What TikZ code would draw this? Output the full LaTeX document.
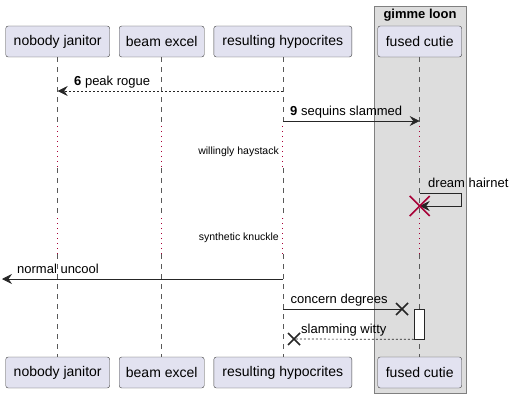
\documentclass[tikz,border=0pt]{standalone}
\usepackage{fontspec}
\setmainfont{Liberation Sans}
\usetikzlibrary{arrows.meta, positioning}

\definecolor{actorfill}{HTML}{E2E2F0}
\definecolor{groupfill}{HTML}{DDDDDD}
\definecolor{delaycol}{HTML}{A80036}

\begin{document}
\begin{tikzpicture}[x=1pt, y=-1pt,
  actor/.style={draw=black!75, fill=actorfill, rounded corners=2.5pt, minimum height=31pt,
                inner sep=0pt, font=\fontsize{14}{16}\selectfont},
  life/.style={black!65, line width=0.5pt, dash pattern=on 5pt off 5pt},
  delayline/.style={delaycol, line width=1pt, dash pattern=on 1pt off 4pt},
  msg/.style={-{Stealth[length=10pt, width=10pt, inset=3.5pt]}, black!85, line width=0.7pt},
  reply/.style={msg, dash pattern=on 2pt off 2pt},
  lbl/.style={anchor=base west, inner sep=0pt, font=\fontsize{13}{15}\selectfont},
  delaytxt/.style={anchor=base east, inner sep=0pt, font=\fontsize{10.5}{12}\selectfont},
  cross/.style={line width=1.6pt}
]
\useasboundingbox (0,0) rectangle (511,398);

% box around the last participant
\draw[fill=groupfill, draw=black!50] (374,6) rectangle (466,393);
\node[font=\bfseries\fontsize{13}{15}\selectfont, inner sep=0pt] (grp) at (420,15) {gimme loon};

% participants, top and bottom row
\node[actor, minimum width=104pt] (jan)  at (57.7,41.5)  {nobody janitor};
\node[actor, minimum width=85pt]  (beam) at (161.7,41.5) {beam excel};
\node[actor, minimum width=138pt] (hyp)  at (282.8,41.5) {resulting hypocrites};
\node[actor, minimum width=84pt]  (fus)  at (419.7,41.5) {fused cutie};
\node[actor, minimum width=104pt] (jan2)  at (57.7,372.5)  {nobody janitor};
\node[actor, minimum width=85pt]  (beam2) at (161.7,372.5) {beam excel};
\node[actor, minimum width=138pt] (hyp2)  at (282.8,372.5) {resulting hypocrites};
\node[actor, minimum width=84pt]  (fus2)  at (419.7,372.5) {fused cutie};

% delay bands
\coordinate (d1) at (0,126);
\coordinate (d2) at (0,168);
\coordinate (d3) at (0,218);
\coordinate (d4) at (0,254);

\foreach \p/\q in {jan/jan2, beam/beam2, hyp/hyp2, fus/fus2} {
  \draw[life] (\p.south) -- (\p |- d1);
  \draw[delayline] (\p |- d1) -- (\p |- d2);
  \draw[life] (\p |- d2) -- (\p |- d3);
  \draw[delayline] (\p |- d3) -- (\p |- d4);
  \draw[life] (\p |- d4) -- (\q.north);
}

% message rows
\coordinate (m1) at (0,91);
\coordinate (m2) at (0,121);
\coordinate (s1) at (461,193);
\coordinate (s2) at (461,206);
\coordinate (m5) at (0,279);
\coordinate (found) at (2,279);
\coordinate (lost) at (402,309);
\coordinate (gone) at (294,339);

\draw[reply] (hyp |- m1) -- (jan |- m1);
\node[lbl] (t1) at (74,85.5) {\textbf{6} peak rogue};

\draw[msg] (hyp |- m2) -- (fus |- m2);
\node[lbl] (t2) at (290,115.5) {\textbf{9} sequins slammed};

\node[delaytxt] (w1) at (279,155) {willingly haystack};

\draw[msg] (fus |- s1) -- (s1) -- (s2) -- (fus |- s2);
\node[lbl] (t3) at (428,188) {dream hairnet};
\draw[cross, delaycol] (fus |- s2) +(-10,-10) -- +(10,10) +(-10,10) -- +(10,-10);

\node[delaytxt] (w2) at (279,240) {synthetic knuckle};

\draw[msg] (hyp |- m5) -- (found);
\node[lbl] (t4) at (17,273.5) {normal uncool};

\draw[black!85, line width=0.7pt] (hyp |- lost) -- (lost);
\draw[cross, black!85] (lost) +(-6,-6) -- +(6,6) +(-6,6) -- +(6,-6);
\node[lbl] (t5) at (290.5,303.5) {concern degrees};

% activation on the last lifeline
\node[draw=black!85, fill=white, minimum width=10pt, minimum height=30pt, inner sep=0pt,
      line width=0.7pt] (act) at (419.2,324) {};

\draw[black!85, line width=0.7pt, dash pattern=on 2pt off 2pt] (act.south west) -- (gone);
\draw[cross, black!85] (gone) +(-6,-6) -- +(6,6) +(-6,6) -- +(6,-6);
\node[lbl] (t6) at (301,333.5) {slamming witty};
\end{tikzpicture}
\end{document}
